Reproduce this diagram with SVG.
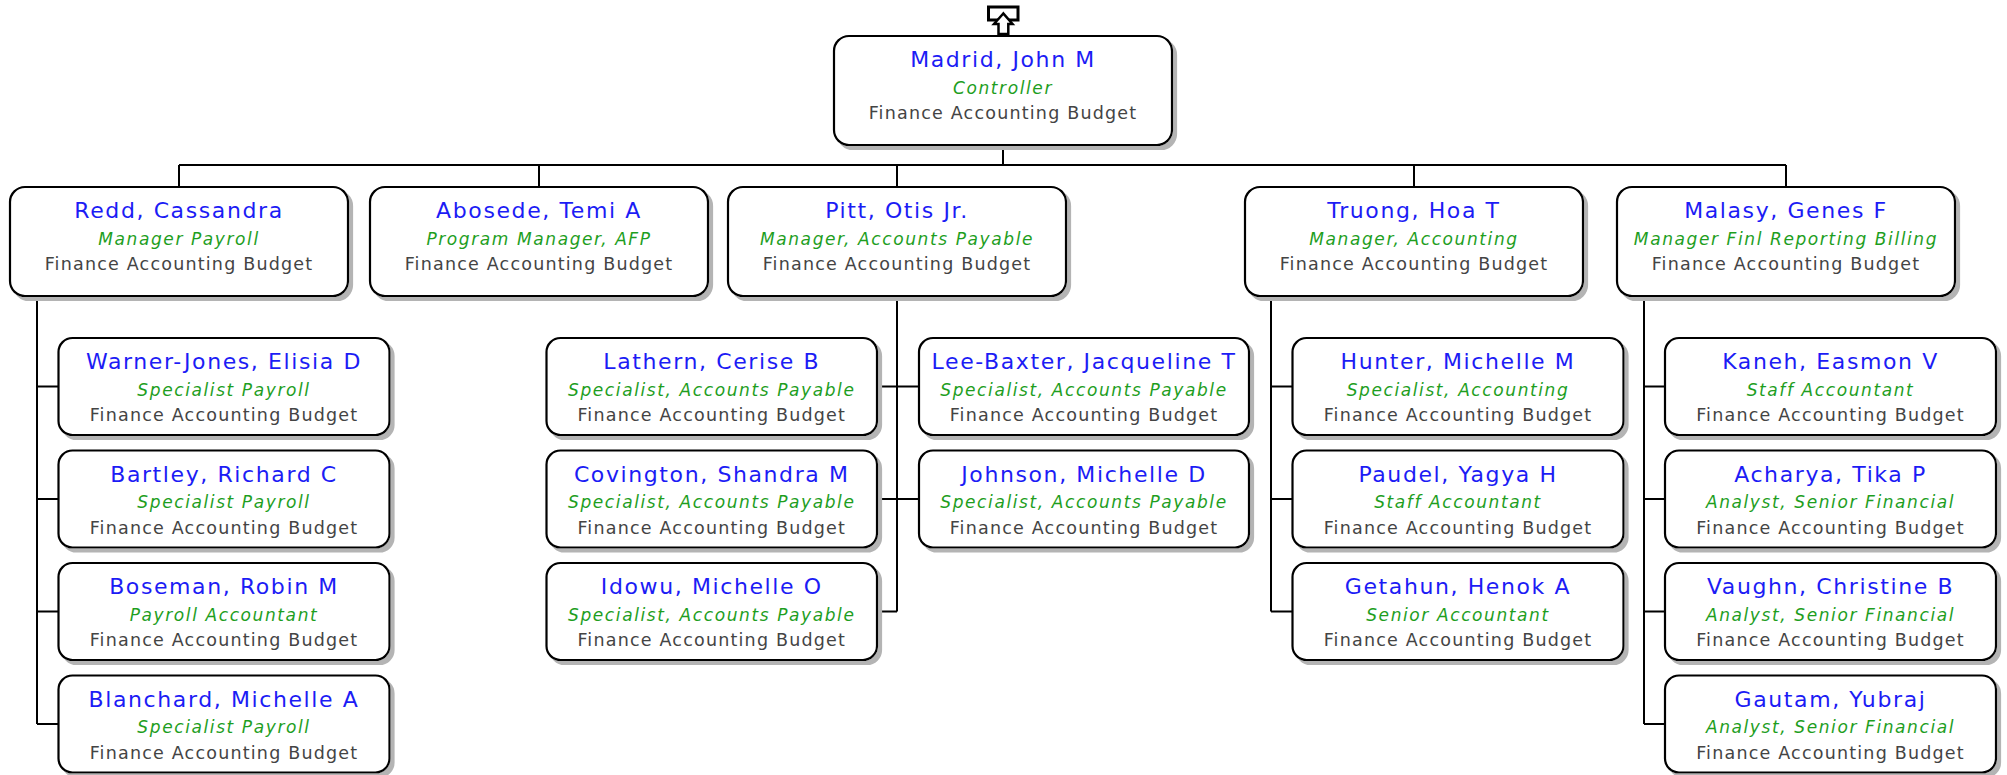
<svg xmlns="http://www.w3.org/2000/svg" width="2007" height="775" viewBox="0 0 2007 775">
<defs>
<filter id="sh" x="-5%" y="-5%" width="115%" height="125%">
<feDropShadow dx="4" dy="4" stdDeviation="0.6" flood-color="#b4b4b4" flood-opacity="1"/>
</filter>
<style>
.box{fill:#fff;stroke:#000;stroke-width:2.2;filter:url(#sh)}
.n{font-family:"DejaVu Sans",Verdana,sans-serif;font-size:22px;fill:#1c1cf5;text-anchor:middle;letter-spacing:1.6px}
.t{font-family:"DejaVu Sans",Verdana,sans-serif;font-size:17px;font-style:italic;fill:#1e9e1e;text-anchor:middle;letter-spacing:1.6px}
.d{font-family:"DejaVu Sans",Verdana,sans-serif;font-size:17.5px;fill:#444;text-anchor:middle;letter-spacing:1.2px}
.c{fill:none;stroke:#000;stroke-width:2}
</style>
</defs>
<rect width="2007" height="775" fill="#fff"/>
<g id="connectors" class="c">
<path d="M1003 145V165M179 165H1786M179 165V187M539 165V187M897 165V187M1414 165V187M1786 165V187"/>
<path d="M37 296V724M37 386.5H58.5M37 499H58.5M37 611.5H58.5M37 724H58.5"/>
<path d="M897 296V611.5M877 386.5H919M877 499H919M877 611.5H897"/>
<path d="M1271 296V611.5M1271 386.5H1292.5M1271 499H1292.5M1271 611.5H1292.5"/>
<path d="M1644 296V724M1644 386.5H1665M1644 499H1665M1644 611.5H1665M1644 724H1665"/>
</g>
<g id="top-icon">
<rect x="988.5" y="7" width="29.5" height="13" fill="#fff" stroke="#000" stroke-width="3"/>
<path d="M1003.3 13.5L994 24H998.5V34H1008.3V24H1012.5Z" fill="#fff" stroke="#000" stroke-width="2.5" stroke-linejoin="miter"/>
</g>
<g id="madrid"><rect class="box" x="834" y="36" width="338" height="109" rx="15"/><text class="n" x="1003" y="67">Madrid, John M</text><text class="t" x="1003" y="93.5">Controller</text><text class="d" x="1003" y="119">Finance Accounting Budget</text></g>
<g id="redd"><rect class="box" x="10" y="187" width="338" height="109" rx="15"/><text class="n" x="179" y="218">Redd, Cassandra</text><text class="t" x="179" y="244.5">Manager Payroll</text><text class="d" x="179" y="270">Finance Accounting Budget</text></g>
<g id="abosede"><rect class="box" x="370" y="187" width="338" height="109" rx="15"/><text class="n" x="539" y="218">Abosede, Temi A</text><text class="t" x="539" y="244.5">Program Manager, AFP</text><text class="d" x="539" y="270">Finance Accounting Budget</text></g>
<g id="pitt"><rect class="box" x="728" y="187" width="338" height="109" rx="15"/><text class="n" x="897" y="218">Pitt, Otis Jr.</text><text class="t" x="897" y="244.5">Manager, Accounts Payable</text><text class="d" x="897" y="270">Finance Accounting Budget</text></g>
<g id="truong"><rect class="box" x="1245" y="187" width="338" height="109" rx="15"/><text class="n" x="1414" y="218">Truong, Hoa T</text><text class="t" x="1414" y="244.5">Manager, Accounting</text><text class="d" x="1414" y="270">Finance Accounting Budget</text></g>
<g id="malasy"><rect class="box" x="1617" y="187" width="338" height="109" rx="15"/><text class="n" x="1786" y="218">Malasy, Genes F</text><text class="t" x="1786" y="244.5">Manager Finl Reporting Billing</text><text class="d" x="1786" y="270">Finance Accounting Budget</text></g>

<g id="warner-jones"><rect class="box" x="58.5" y="338" width="331" height="97" rx="14"/><text class="n" x="224" y="369">Warner-Jones, Elisia D</text><text class="t" x="224" y="395.5">Specialist Payroll</text><text class="d" x="224" y="421">Finance Accounting Budget</text></g>
<g id="bartley"><rect class="box" x="58.5" y="450.5" width="331" height="97" rx="14"/><text class="n" x="224" y="481.5">Bartley, Richard C</text><text class="t" x="224" y="508">Specialist Payroll</text><text class="d" x="224" y="533.5">Finance Accounting Budget</text></g>
<g id="boseman"><rect class="box" x="58.5" y="563" width="331" height="97" rx="14"/><text class="n" x="224" y="594">Boseman, Robin M</text><text class="t" x="224" y="620.5">Payroll Accountant</text><text class="d" x="224" y="646">Finance Accounting Budget</text></g>
<g id="blanchard"><rect class="box" x="58.5" y="675.5" width="331" height="97" rx="14"/><text class="n" x="224" y="706.5">Blanchard, Michelle A</text><text class="t" x="224" y="733">Specialist Payroll</text><text class="d" x="224" y="758.5">Finance Accounting Budget</text></g>

<g id="lathern"><rect class="box" x="546.5" y="338" width="330.5" height="97" rx="14"/><text class="n" x="711.75" y="369">Lathern, Cerise B</text><text class="t" x="711.75" y="395.5">Specialist, Accounts Payable</text><text class="d" x="711.75" y="421">Finance Accounting Budget</text></g>
<g id="covington"><rect class="box" x="546.5" y="450.5" width="330.5" height="97" rx="14"/><text class="n" x="711.75" y="481.5">Covington, Shandra M</text><text class="t" x="711.75" y="508">Specialist, Accounts Payable</text><text class="d" x="711.75" y="533.5">Finance Accounting Budget</text></g>
<g id="idowu"><rect class="box" x="546.5" y="563" width="330.5" height="97" rx="14"/><text class="n" x="711.75" y="594">Idowu, Michelle O</text><text class="t" x="711.75" y="620.5">Specialist, Accounts Payable</text><text class="d" x="711.75" y="646">Finance Accounting Budget</text></g>
<g id="lee-baxter"><rect class="box" x="919" y="338" width="330" height="97" rx="14"/><text class="n" x="1084" y="369">Lee-Baxter, Jacqueline T</text><text class="t" x="1084" y="395.5">Specialist, Accounts Payable</text><text class="d" x="1084" y="421">Finance Accounting Budget</text></g>
<g id="johnson"><rect class="box" x="919" y="450.5" width="330" height="97" rx="14"/><text class="n" x="1084" y="481.5">Johnson, Michelle D</text><text class="t" x="1084" y="508">Specialist, Accounts Payable</text><text class="d" x="1084" y="533.5">Finance Accounting Budget</text></g>

<g id="hunter"><rect class="box" x="1292.5" y="338" width="331" height="97" rx="14"/><text class="n" x="1458" y="369">Hunter, Michelle M</text><text class="t" x="1458" y="395.5">Specialist, Accounting</text><text class="d" x="1458" y="421">Finance Accounting Budget</text></g>
<g id="paudel"><rect class="box" x="1292.5" y="450.5" width="331" height="97" rx="14"/><text class="n" x="1458" y="481.5">Paudel, Yagya H</text><text class="t" x="1458" y="508">Staff Accountant</text><text class="d" x="1458" y="533.5">Finance Accounting Budget</text></g>
<g id="getahun"><rect class="box" x="1292.5" y="563" width="331" height="97" rx="14"/><text class="n" x="1458" y="594">Getahun, Henok A</text><text class="t" x="1458" y="620.5">Senior Accountant</text><text class="d" x="1458" y="646">Finance Accounting Budget</text></g>

<g id="kaneh"><rect class="box" x="1665" y="338" width="331" height="97" rx="14"/><text class="n" x="1830.5" y="369">Kaneh, Easmon V</text><text class="t" x="1830.5" y="395.5">Staff Accountant</text><text class="d" x="1830.5" y="421">Finance Accounting Budget</text></g>
<g id="acharya"><rect class="box" x="1665" y="450.5" width="331" height="97" rx="14"/><text class="n" x="1830.5" y="481.5">Acharya, Tika P</text><text class="t" x="1830.5" y="508">Analyst, Senior Financial</text><text class="d" x="1830.5" y="533.5">Finance Accounting Budget</text></g>
<g id="vaughn"><rect class="box" x="1665" y="563" width="331" height="97" rx="14"/><text class="n" x="1830.5" y="594">Vaughn, Christine B</text><text class="t" x="1830.5" y="620.5">Analyst, Senior Financial</text><text class="d" x="1830.5" y="646">Finance Accounting Budget</text></g>
<g id="gautam"><rect class="box" x="1665" y="675.5" width="331" height="97" rx="14"/><text class="n" x="1830.5" y="706.5">Gautam, Yubraj</text><text class="t" x="1830.5" y="733">Analyst, Senior Financial</text><text class="d" x="1830.5" y="758.5">Finance Accounting Budget</text></g>
</svg>
